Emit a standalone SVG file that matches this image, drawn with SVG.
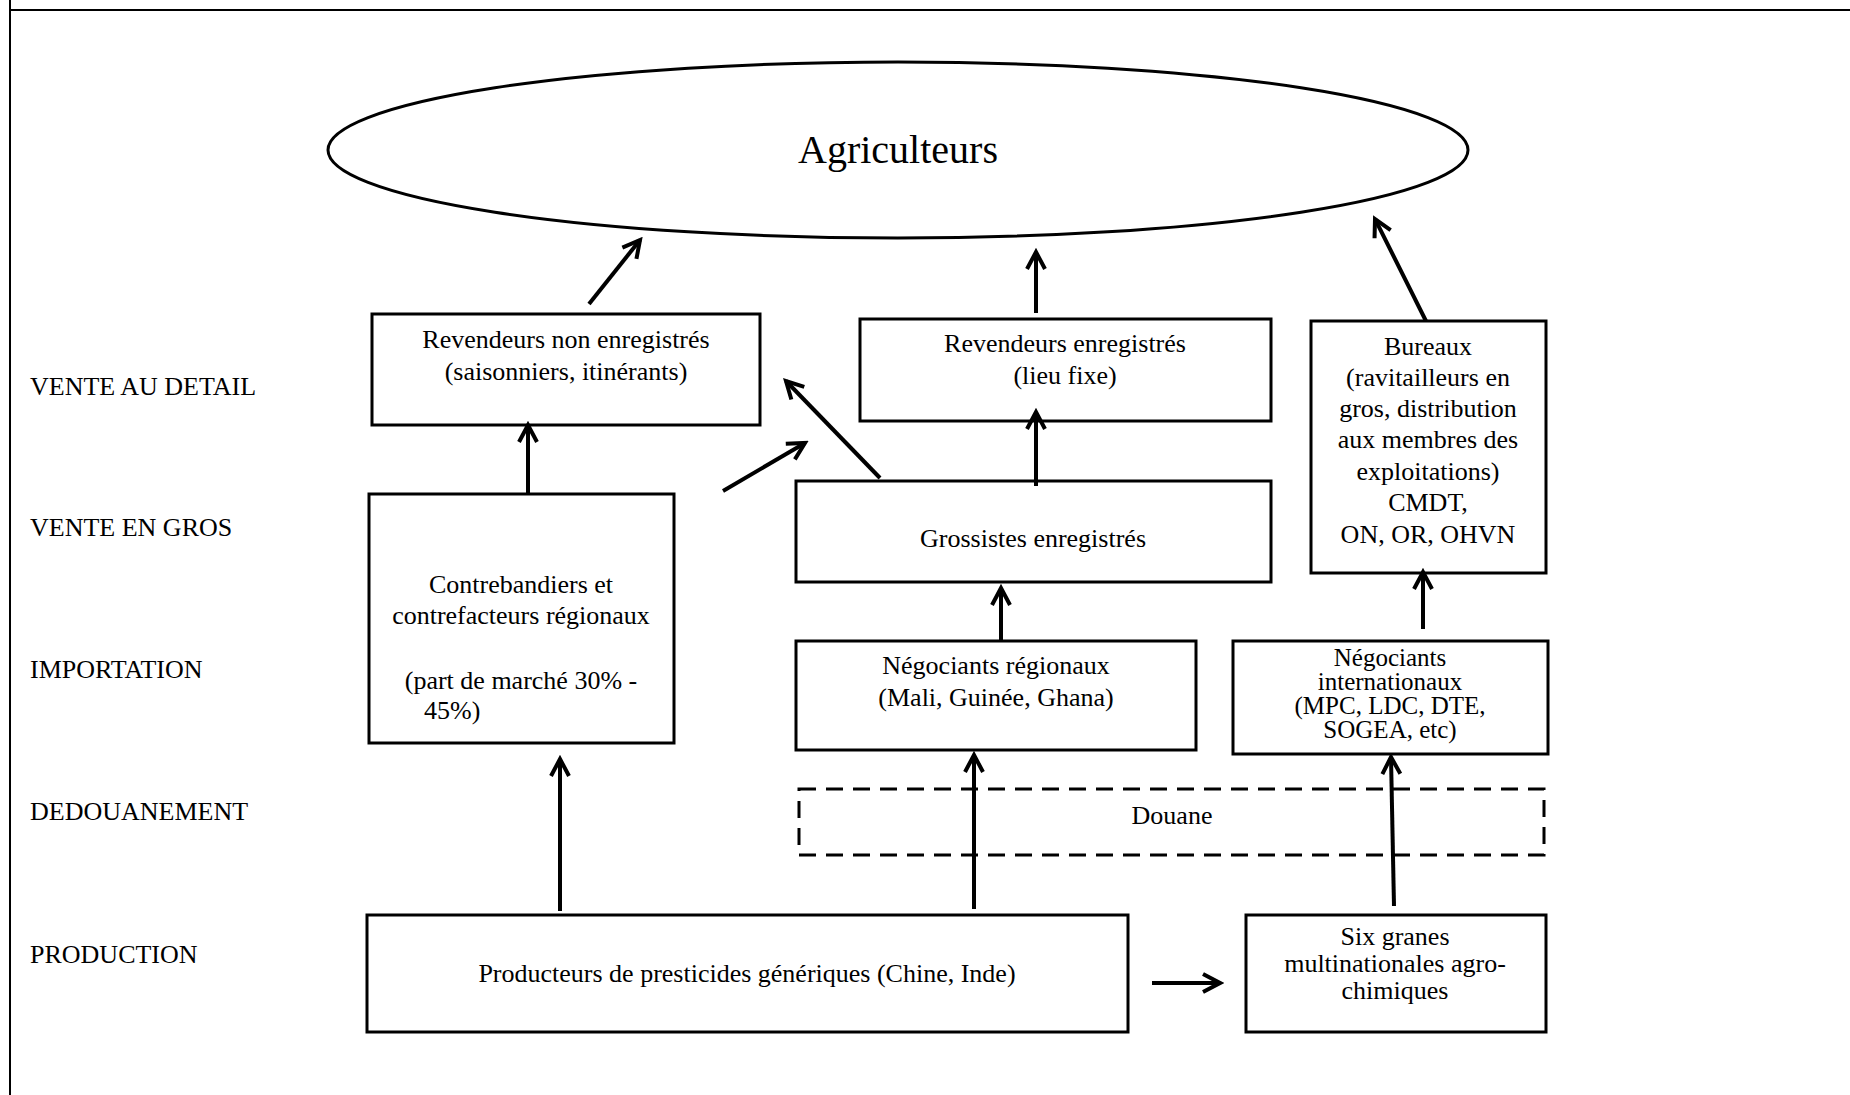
<svg xmlns="http://www.w3.org/2000/svg" width="1850" height="1095" viewBox="0 0 1850 1095">
<defs>
<marker id="ah" markerUnits="userSpaceOnUse" viewBox="-22 -14 26 28" markerWidth="26" markerHeight="28" refX="0" refY="0" orient="auto">
<path d="M-17,-9 L0,0 L-17,9" fill="none" stroke="#000" stroke-width="4" stroke-linejoin="miter"/>
</marker>
</defs>
<style>
.box{fill:#fff;stroke:#000;stroke-width:3}
.dash{fill:none;stroke:#000;stroke-width:3;stroke-dasharray:17 10}
.t{font-family:"Liberation Serif","Times New Roman",serif;font-size:26px;fill:#000}
.c{text-anchor:middle}
.big{font-size:40px}
.tight{font-size:25px}
.frame{stroke:#000;stroke-width:2}
</style>
<rect width="1850" height="1095" fill="#fff"/>
<g id="frame">
<line class="frame" x1="10" y1="10" x2="1850" y2="10"/>
<line class="frame" x1="10" y1="0" x2="10" y2="1095"/>
</g>
<g id="labels" class="t">
<text x="30" y="395">VENTE AU DETAIL</text>
<text x="30" y="536">VENTE EN GROS</text>
<text x="30" y="678">IMPORTATION</text>
<text x="30" y="820">DEDOUANEMENT</text>
<text x="30" y="963">PRODUCTION</text>
</g>
<g id="agriculteurs">
<ellipse cx="898" cy="150" rx="570" ry="88" fill="#fff" stroke="#000" stroke-width="3"/>
<text class="t c big" x="898" y="163">Agriculteurs</text>
</g>
<g id="revendeurs-non">
<rect class="box" x="372" y="314" width="388" height="111"/>
<text class="t c" x="566" y="348">Revendeurs non enregistrés</text>
<text class="t c" x="566" y="380">(saisonniers, itinérants)</text>
</g>
<g id="revendeurs-enr">
<rect class="box" x="860" y="319" width="411" height="102"/>
<text class="t c" x="1065" y="352">Revendeurs enregistrés</text>
<text class="t c" x="1065" y="384">(lieu fixe)</text>
</g>
<g id="bureaux">
<rect class="box" x="1311" y="321" width="235" height="252"/>
<text class="t c" x="1428" y="355">Bureaux</text>
<text class="t c" x="1428" y="386">(ravitailleurs en</text>
<text class="t c" x="1428" y="417">gros, distribution</text>
<text class="t c" x="1428" y="448">aux membres des</text>
<text class="t c" x="1428" y="480">exploitations)</text>
<text class="t c" x="1428" y="511">CMDT,</text>
<text class="t c" x="1428" y="543">ON, OR, OHVN</text>
</g>
<g id="grossistes">
<rect class="box" x="796" y="481" width="475" height="101"/>
<text class="t c" x="1033" y="547">Grossistes enregistrés</text>
</g>
<g id="contrebandiers">
<rect class="box" x="369" y="494" width="305" height="249"/>
<text class="t c" x="521" y="593">Contrebandiers et</text>
<text class="t c" x="521" y="624">contrefacteurs régionaux</text>
<text class="t c" x="521" y="689">(part de marché 30% -</text>
<text class="t" x="424" y="719">45%)</text>
</g>
<g id="negociants-reg">
<rect class="box" x="796" y="641" width="400" height="109"/>
<text class="t c" x="996" y="674">Négociants régionaux</text>
<text class="t c" x="996" y="706">(Mali, Guinée, Ghana)</text>
</g>
<g id="negociants-int">
<rect class="box" x="1233" y="641" width="315" height="113"/>
<text class="t c tight" x="1390" y="666">Négociants</text>
<text class="t c tight" x="1390" y="690">internationaux</text>
<text class="t c tight" x="1390" y="714">(MPC, LDC, DTE,</text>
<text class="t c tight" x="1390" y="738">SOGEA, etc)</text>
</g>
<g id="douane">
<rect class="dash" x="799" y="789" width="745" height="66"/>
<text class="t c" x="1172" y="824">Douane</text>
</g>
<g id="producteurs">
<rect class="box" x="367" y="915" width="761" height="117"/>
<text class="t c" x="747" y="982">Producteurs de presticides génériques (Chine, Inde)</text>
</g>
<g id="six-granes">
<rect class="box" x="1246" y="915" width="300" height="117"/>
<text class="t c" x="1395" y="945">Six granes</text>
<text class="t c" x="1395" y="972">multinationales agro-</text>
<text class="t c" x="1395" y="999">chimiques</text>
</g>
<g id="connectors" stroke="#000" stroke-width="4" marker-end="url(#ah)">
<line x1="589" y1="304" x2="640" y2="240"/>
<line x1="1036" y1="313" x2="1036" y2="252"/>
<line x1="1426" y1="321" x2="1375" y2="219"/>
<line x1="528" y1="493" x2="528" y2="425"/>
<line x1="723" y1="491" x2="805" y2="443"/>
<line x1="880" y1="478" x2="786" y2="381"/>
<line x1="1036" y1="486" x2="1036" y2="412"/>
<line x1="1001" y1="640" x2="1001" y2="588"/>
<line x1="1423" y1="629" x2="1423" y2="572"/>
<line x1="560" y1="911" x2="560" y2="759"/>
<line x1="974" y1="909" x2="974" y2="755"/>
<line x1="1394" y1="906" x2="1391" y2="757"/>
<line x1="1152" y1="983" x2="1220" y2="983"/>
</g>
</svg>
